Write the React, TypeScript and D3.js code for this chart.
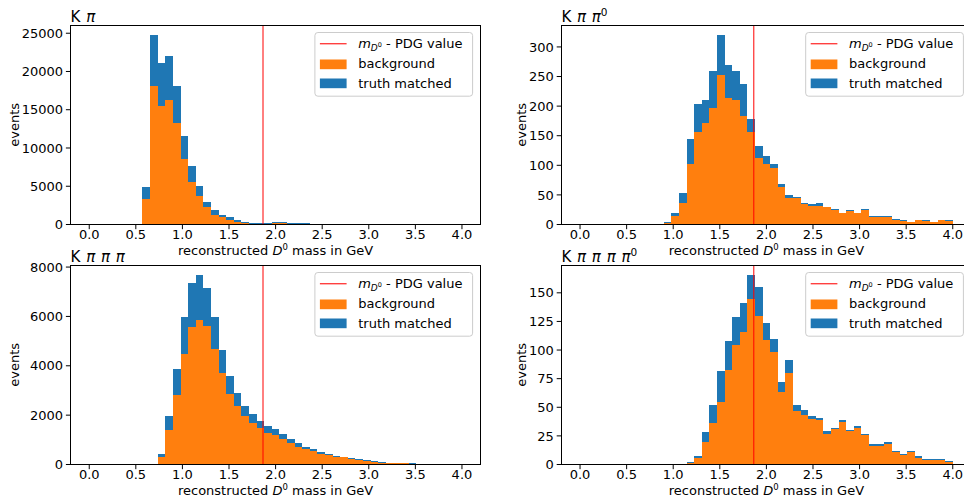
import React from "react";
import * as d3 from "d3";

// 49 equal-width bins from 0 to 4 GeV
const binEdges: number[] = d3.range(50).map((i) => (i * 4) / 49);

const xTickValues = [0, 0.5, 1, 1.5, 2, 2.5, 3, 3.5, 4];
const PDG_D0_MASS = 1.86484;

// K pi
const kpiBackground = [
  0, 0, 0, 0, 0, 0, 0, 3398, 18037, 15553, 16207, 13201, 8626, 5620, 3660, 2222, 1307, 915, 650, 390,
  260, 130, 70, 60, 250, 230, 30, 25, 25, 20, 20, 15, 15, 10, 0, 0, 0, 0, 0, 0,
  0, 0, 0, 0, 0, 0, 0, 0, 0,
];
const kpiTruth = [
  0, 0, 0, 0, 0, 0, 0, 1438, 6796, 5620, 5881, 4836, 3006, 2091, 1307, 784, 523, 392, 265, 260,
  130, 130, 100, 90, 80, 70, 130, 125, 115, 110, 100, 95, 85, 80, 0, 0, 0, 0, 0, 0,
  0, 0, 0, 0, 0, 0, 0, 0, 0,
];
const kpiYTicks = [0, 5000, 10000, 15000, 20000, 25000];

// K pi pi0
const kpipi0Background = [
  0, 0, 0, 0, 0, 0, 0, 0, 0, 0, 0, 2, 15, 36, 103, 157, 172, 196, 252, 213,
  211, 184, 157, 112, 103, 95, 63, 44, 44, 35, 32, 32, 29, 25, 19, 22, 19, 25, 13, 13,
  13, 8, 6, 4, 7, 6, 4, 7, 6,
];
const kpipi0Truth = [
  0, 0, 0, 0, 0, 0, 0, 0, 0, 0, 0, 2, 4, 18, 41, 46, 38, 64, 69, 56,
  49, 53, 22, 21, 12, 8, 5, 5, 2, 2, 2, 4, 1, 2, 1, 2, 1, 2, 1, 1,
  1, 2, 1, 1, 1, 1, 1, 1, 1,
];
const kpipi0YTicks = [0, 50, 100, 150, 200, 250, 300];

// K pi pi pi
const kpipipiBackground = [
  0, 0, 0, 0, 0, 0, 0, 0, 0, 309, 1395, 2818, 4486, 5584, 5869, 5625, 4689, 3713, 2859, 2371,
  1964, 1680, 1476, 1273, 1180, 1050, 878, 720, 620, 530, 440, 385, 320, 285, 230, 185, 150, 110, 80, 58,
  54, 42, 40, 28, 15, 0, 0, 0, 0,
];
const kpipipiTruth = [
  0, 0, 0, 0, 0, 0, 0, 0, 0, 110, 569, 1058, 1505, 1789, 1830, 1545, 1302, 936, 732, 529,
  407, 366, 285, 285, 240, 200, 163, 140, 100, 90, 60, 45, 40, 25, 30, 20, 25, 15, 15, 12,
  11, 13, 10, 12, 10, 0, 0, 0, 0,
];
const kpipipiYTicks = [0, 2000, 4000, 6000, 8000];

// K pi pi pi pi0
const kpipipipi0Background = [
  0, 0, 0, 0, 0, 0, 0, 0, 0, 0, 0, 0, 0, 0, 1, 6, 20, 36, 55, 83,
  104, 116, 145, 130, 109, 98, 63, 80, 47, 43, 40, 39, 27, 31, 37, 29, 32, 26, 16, 16,
  18, 11, 8, 11, 6, 4, 4, 4, 2,
];
const kpipipipi0Truth = [
  0, 0, 0, 0, 0, 0, 0, 0, 0, 0, 0, 0, 0, 0, 1, 1, 8, 16, 27, 25,
  25, 25, 21, 25, 15, 12, 9, 11, 5, 5, 2, 2, 2, 1, 2, 1, 2, 1, 2, 2,
  2, 1, 1, 1, 1, 1, 1, 1, 1,
];
const kpipipipi0YTicks = [0, 25, 50, 75, 100, 125, 150];

const ORANGE = "#ff7f0e";
const BLUE = "#1f77b4";
const FONT = "DejaVu Sans, sans-serif";

type Seg = { t: string; italic?: boolean; sup?: boolean };

const AX_W = 410;
const AX_H = 199.5;

const panels = [
  {
    key: "kpi",
    title: [{ t: "K " }, { t: "π", italic: true }] as Seg[],
    background: kpiBackground,
    truth: kpiTruth,
    yTicks: kpiYTicks,
    left: 70.6,
    top: 25,
    ylabelX: 14,
  },
  {
    key: "kpipi0",
    title: [{ t: "K " }, { t: "π", italic: true }, { t: " " }, { t: "π", italic: true }, { t: "0", sup: true }] as Seg[],
    background: kpipi0Background,
    truth: kpipi0Truth,
    yTicks: kpipi0YTicks,
    left: 561.4,
    top: 25,
    ylabelX: 521.7,
  },
  {
    key: "kpipipi",
    title: [
      { t: "K " },
      { t: "π", italic: true },
      { t: " " },
      { t: "π", italic: true },
      { t: " " },
      { t: "π", italic: true },
    ] as Seg[],
    background: kpipipiBackground,
    truth: kpipipiTruth,
    yTicks: kpipipiYTicks,
    left: 70.6,
    top: 265,
    ylabelX: 14,
  },
  {
    key: "kpipipipi0",
    title: [
      { t: "K " },
      { t: "π", italic: true },
      { t: " " },
      { t: "π", italic: true },
      { t: " " },
      { t: "π", italic: true },
      { t: " " },
      { t: "π", italic: true },
      { t: "0", sup: true },
    ] as Seg[],
    background: kpipipipi0Background,
    truth: kpipipipi0Truth,
    yTicks: kpipipipi0YTicks,
    left: 561.4,
    top: 265,
    ylabelX: 521.7,
  },
];

function Title({ x, y, segs }: { x: number; y: number; segs: Seg[] }) {
  const out: React.ReactNode[] = [];
  let raised = false;
  segs.forEach((s, i) => {
    if (s.sup) {
      out.push(
        <tspan key={i} fontSize={10.5} dy={-6}>
          {s.t}
        </tspan>
      );
      raised = true;
    } else {
      out.push(
        <tspan key={i} fontStyle={s.italic ? "italic" : "normal"} dy={raised ? 6 : 0}>
          {s.t}
        </tspan>
      );
      raised = false;
    }
  });
  return (
    <text x={x} y={y} fontSize={15} fontFamily={FONT} fill="#000" wordSpacing={1}>
      {out}
    </text>
  );
}

function Panel({ p }: { p: (typeof panels)[number] }) {
  const totals = p.background.map((b, i) => b + p.truth[i]);
  const yMax = 1.05 * (d3.max(totals) as number);
  const x = d3.scaleLinear().domain([-0.2, 4.2]).range([p.left, p.left + AX_W]);
  const y = d3.scaleLinear().domain([0, yMax]).range([p.top + AX_H, p.top]);
  const bottom = p.top + AX_H;
  const right = p.left + AX_W;
  const xm = x(PDG_D0_MASS);

  const lgRight = right - 8;
  const lgW = 157.7;
  const lgX = lgRight - lgW;
  const lgY = p.top + 7.5;

  return (
    <g>
      {/* stacked histogram: background at the bottom, truth-matched on top */}
      <g shapeRendering="crispEdges">
        {p.background.map((b, i) => {
          const t = p.truth[i];
          if (b + t <= 0) return null;
          const x0 = x(binEdges[i]);
          const x1 = x(binEdges[i + 1]);
          return (
            <g key={i}>
              {b > 0 && <rect x={x0} y={y(b)} width={x1 - x0} height={y(0) - y(b)} fill={ORANGE} />}
              {t > 0 && <rect x={x0} y={y(b + t)} width={x1 - x0} height={y(b) - y(b + t)} fill={BLUE} />}
            </g>
          );
        })}
      </g>

      {/* PDG mass marker */}
      <line x1={xm} x2={xm} y1={p.top} y2={bottom} stroke="#ff0000" strokeWidth={1} />

      {/* frame */}
      <rect
        x={p.left}
        y={p.top}
        width={AX_W}
        height={AX_H}
        fill="none"
        stroke="#000"
        strokeWidth={1}
        shapeRendering="crispEdges"
      />

      {/* x axis */}
      {xTickValues.map((v) => (
        <g key={"x" + v}>
          <line x1={x(v)} x2={x(v)} y1={bottom} y2={bottom + 4.7} stroke="#000" strokeWidth={1} />
          <text x={x(v)} y={bottom + 14.5} textAnchor="middle" fontSize={13} fontFamily={FONT} fill="#000">
            {d3.format(".1f")(v)}
          </text>
        </g>
      ))}
      <text x={p.left + AX_W / 2} y={bottom + 30} textAnchor="middle" fontSize={13} fontFamily={FONT} fill="#000">
        reconstructed <tspan fontStyle="italic">D</tspan>
        <tspan fontSize={8.5} dy={-4.5}>
          0
        </tspan>
        <tspan dy={4.5}> mass in GeV</tspan>
      </text>

      {/* y axis */}
      {p.yTicks.map((v) => (
        <g key={"y" + v}>
          <line x1={p.left - 4.7} x2={p.left} y1={y(v)} y2={y(v)} stroke="#000" strokeWidth={1} />
          <text
            x={p.left - 7.5}
            y={y(v)}
            dy="0.36em"
            textAnchor="end"
            fontSize={13}
            fontFamily={FONT}
            fill="#000"
          >
            {v}
          </text>
        </g>
      ))}
      <text
        transform={`translate(${p.ylabelX},${p.top + AX_H / 2}) rotate(-90)`}
        textAnchor="middle"
        dy="0.36em"
        fontSize={13}
        fontFamily={FONT}
        fill="#000"
      >
        events
      </text>

      <Title x={p.left} y={p.top - 3} segs={p.title} />

      {/* legend */}
      <g transform={`translate(${lgX},${lgY})`} fontFamily={FONT} fontSize={13}>
        <rect width={lgW} height={63.7} rx={3} fill="#fff" fillOpacity={0.8} stroke="#cccccc" strokeWidth={1} />
        <line x1={5} x2={31.7} y1={11.2} y2={11.2} stroke="#ff0000" strokeOpacity={0.75} strokeWidth={1.4} />
        <text x={43.3} y={15.7} fill="#000">
          <tspan fontStyle="italic">m</tspan>
          <tspan fontStyle="italic" fontSize={9} dy={3}>
            D
          </tspan>
          <tspan fontSize={6.5} dy={-4}>
            0
          </tspan>
          <tspan dy={1}> - PDG value</tspan>
        </text>
        <rect x={5} y={27} width={26.7} height={9.7} fill={ORANGE} />
        <text x={43.3} y={35.7} fill="#000">
          background
        </text>
        <rect x={5} y={46} width={26.7} height={9.7} fill={BLUE} />
        <text x={43.3} y={55} fill="#000">
          truth matched
        </text>
      </g>
    </g>
  );
}

export default function App() {
  return (
    <svg
      width={964}
      height={501}
      viewBox="0 0 964 501"
      style={{ position: "absolute", left: 0, top: 0, background: "#fff" }}
    >
      <rect width={964} height={501} fill="#fff" />
      {panels.map((p) => (
        <Panel key={p.key} p={p} />
      ))}
    </svg>
  );
}
